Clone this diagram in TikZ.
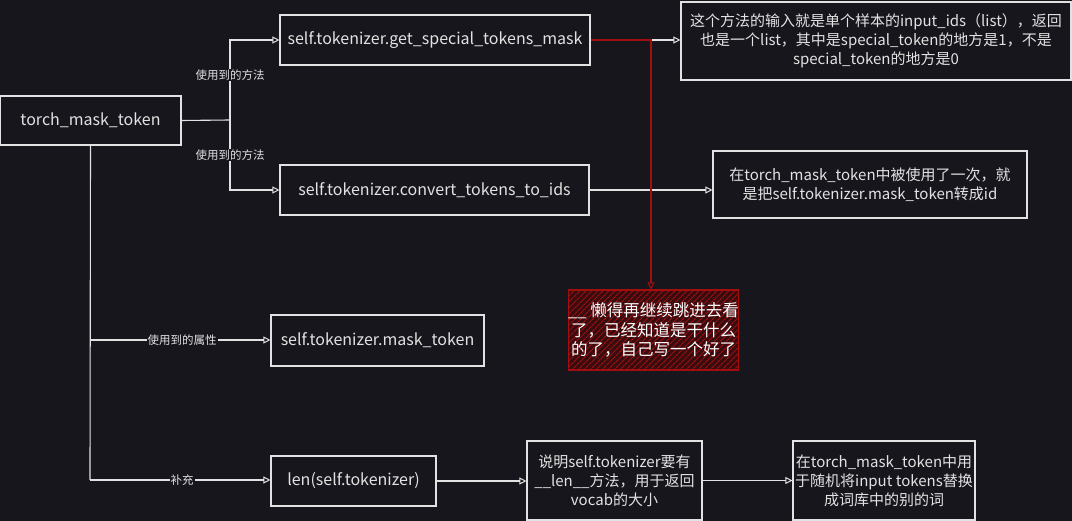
\documentclass[tikz,border=0pt]{standalone}
\usepackage{fontspec}
\setmainfont{Noto Sans CJK SC}
\usetikzlibrary{arrows.meta,patterns.meta}
\definecolor{bg}{HTML}{18161D}
\definecolor{ink}{HTML}{E2E2E2}
\definecolor{redline}{HTML}{A30F0F}
\definecolor{redfill}{HTML}{3A0C10}
\tikzset{
  box/.style={draw=ink, line width=1.1pt, text=ink, align=center, inner sep=0pt, anchor=center},
  fs16/.style={font=\fontsize{16}{19}\selectfont},
  fs15/.style={font=\fontsize{15}{19}\selectfont},
  conn/.style={draw=ink, line width=1.1pt},
  arr/.style={conn, -{Triangle[open, length=7pt, width=7pt, line width=1pt]}},
  redarr/.style={draw=redline, line width=1.1pt, -{Triangle[open, length=7pt, width=7pt, line width=1pt]}},
  elabel/.style={fill=bg, text=ink, inner sep=1pt, font=\fontsize{11.5}{13}\selectfont},
  redbox/.style={draw=redline, line width=1.1pt, fill=redfill,
    postaction={pattern={Lines[angle=45, distance=4pt, line width=1pt]}, pattern color=redline},
    text=white, align=center, inner sep=0pt, anchor=center, font=\fontsize{16.5}{19.5}\selectfont},
}
\begin{document}
\begin{tikzpicture}[x=1pt, y=-1pt]
\useasboundingbox[fill=bg] (0,0) rectangle (1072,521);

% nodes
\node[box, fs16, minimum width=181pt, minimum height=49pt] (torch) at (90.5,120.5) {torch\_mask\_token};
\node[box, fs16, minimum width=310pt, minimum height=50pt] (getm) at (435,40) {self.tokenizer.get\_special\_tokens\_mask};
\node[box, fs15, minimum width=390pt, minimum height=78pt] (info1) at (876,41)
  {这个方法的输入就是单个样本的input\_ids（list），返回\\也是一个list，其中是special\_token的地方是1，不是\\special\_token的地方是0};
\node[box, fs16, minimum width=309pt, minimum height=50pt] (conv) at (434.5,190) {self.tokenizer.convert\_tokens\_to\_ids};
\node[box, fs15, minimum width=314pt, minimum height=67pt] (info2) at (870,184.5)
  {在torch\_mask\_token中被使用了一次，就\\是把self.tokenizer.mask\_token转成id};
\node[redbox, minimum width=167pt, minimum height=80pt] (lazy) at (653.5,330)
  {\_\_ 懒得再继续跳进去看\\了，已经知道是干什么\\的了，自己写一个好了};
\node[box, fs16, minimum width=213pt, minimum height=51pt] (mtok) at (377.5,340.5) {self.tokenizer.mask\_token};
\node[box, fs16, minimum width=165pt, minimum height=50pt] (lenn) at (353.5,481) {len(self.tokenizer)};
\node[box, fs15, minimum width=175pt, minimum height=79pt] (shuo) at (614.5,480.5)
  {说明self.tokenizer要有\\\_\_len\_\_方法，用于返回\\vocab的大小};
\node[box, fs15, minimum width=182pt, minimum height=79pt] (fin) at (884,480.5)
  {在torch\_mask\_token中用\\于随机将input tokens替换\\成词库中的别的词};

% junctions
\coordinate (j1) at (230,120);
\coordinate (j2) at (90,340);
\coordinate (j3) at (90,480);
\coordinate (rc) at (651,40);

% connectors
\draw[conn] (torch.east) -- (j1);
\draw[arr] (j1) |- (getm.west);
\draw[arr] (j1) |- (conv.west);
\draw[conn] (torch.south) -- (j3);
\draw[arr] (j2) -- (mtok.west |- j2);
\draw[arr] (j3) -- (lenn.west |- j3);
\draw[arr] (getm.east) -- (getm.east -| info1.west);
\draw[arr] (conv.east) -- (conv.east -| info2.west);
\draw[arr] (lenn.east) -- (lenn.east -| shuo.west);
\draw[arr] (shuo.east) -- (shuo.east -| fin.west);
\draw[redarr] (getm.east) -- (rc) -- (rc |- lazy.north);

% edge labels
\node[elabel] (l1) at (230,75) {使用到的方法};
\node[elabel] (l2) at (230,155) {使用到的方法};
\node[elabel] (l3) at (182,340) {使用到的属性};
\node[elabel] (l4) at (182,480) {补充};
\end{tikzpicture}
\end{document}
